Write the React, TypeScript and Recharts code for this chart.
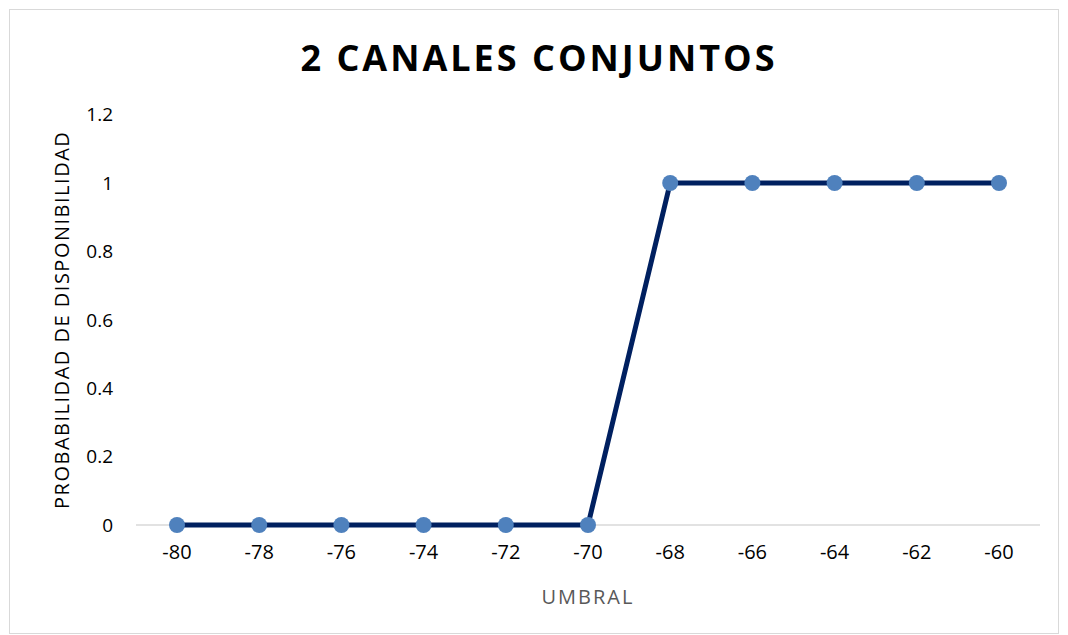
import React from "react";
import { LineChart, Line, XAxis, YAxis, Label, CartesianGrid } from "recharts";

const categories: number[] = [-80, -78, -76, -74, -72, -70, -68, -66, -64, -62, -60];
const probability: number[] = [0, 0, 0, 0, 0, 0, 1, 1, 1, 1, 1];
const yTicks: number[] = [0, 0.2, 0.4, 0.6, 0.8, 1, 1.2];

const data = categories.map((c, i) => ({ umbral: c, p: probability[i] }));

const FONT = "'Open Sans', 'Noto Sans', sans-serif";

export default function App() {
  return (
    <div
      style={{
        position: "relative",
        width: 1048,
        height: 623,
        marginLeft: 1,
        marginTop: 1,
        border: "1px solid #d9d9d9",
        background: "#fff",
        fontFamily: FONT,
      }}
    >
      <div
        style={{
          position: "absolute",
          left: 0,
          top: 23,
          width: 1058,
          textAlign: "center",
          fontSize: 36,
          fontWeight: 700,
          letterSpacing: 3,
          color: "#000",
          fontFamily: FONT,
        }}
      >
        2 CANALES CONJUNTOS
      </div>
      <LineChart
        width={1048}
        height={623}
        data={data}
        margin={{ top: 104.6, right: 18, bottom: 78, left: 66 }}
      >
        <CartesianGrid
          vertical={false}
          horizontalValues={[0]}
          stroke="#d9d9d9"
          strokeWidth={1.5}
        />
        <XAxis
          dataKey="umbral"
          type="category"
          padding={{ left: 41, right: 41 }}
          axisLine={false}
          tickLine={false}
          tickSize={0}
          tickMargin={20}
          height={30}
          tick={{ fontSize: 20, fill: "#000", fontFamily: FONT }}
        >
          <Label
            content={({ viewBox }: any) => (
              <text
                x={viewBox.x + viewBox.width / 2}
                y={viewBox.y + 79}
                textAnchor="middle"
                fontSize={20}
                letterSpacing={2}
                fill="#595959"
                fontFamily={FONT}
              >
                UMBRAL
              </text>
            )}
          />
        </XAxis>
        <YAxis
          domain={[0, 1.2]}
          ticks={yTicks}
          type="number"
          axisLine={false}
          tickLine={false}
          tickSize={0}
          tickMargin={23}
          width={60}
          tick={{ fontSize: 19, fill: "#000", fontFamily: FONT }}
        >
          <Label
            content={({ viewBox }: any) => {
              const cx = viewBox.x - 14;
              const cy = viewBox.y + viewBox.height / 2;
              return (
                <text
                  x={cx}
                  y={cy}
                  transform={`rotate(-90 ${cx} ${cy})`}
                  textAnchor="middle"
                  dominantBaseline="central"
                  fontSize={20}
                  letterSpacing={1.5}
                  fill="#000"
                  fontFamily={FONT}
                >
                  PROBABILIDAD DE DISPONIBILIDAD
                </text>
              );
            }}
          />
        </YAxis>
        <Line
          dataKey="p"
          type="linear"
          stroke="#002060"
          strokeWidth={5}
          dot={{ r: 8, fill: "#4f81bd", stroke: "#4f81bd", strokeWidth: 0 }}
          activeDot={false}
          isAnimationActive={false}
        />
      </LineChart>
    </div>
  );
}
